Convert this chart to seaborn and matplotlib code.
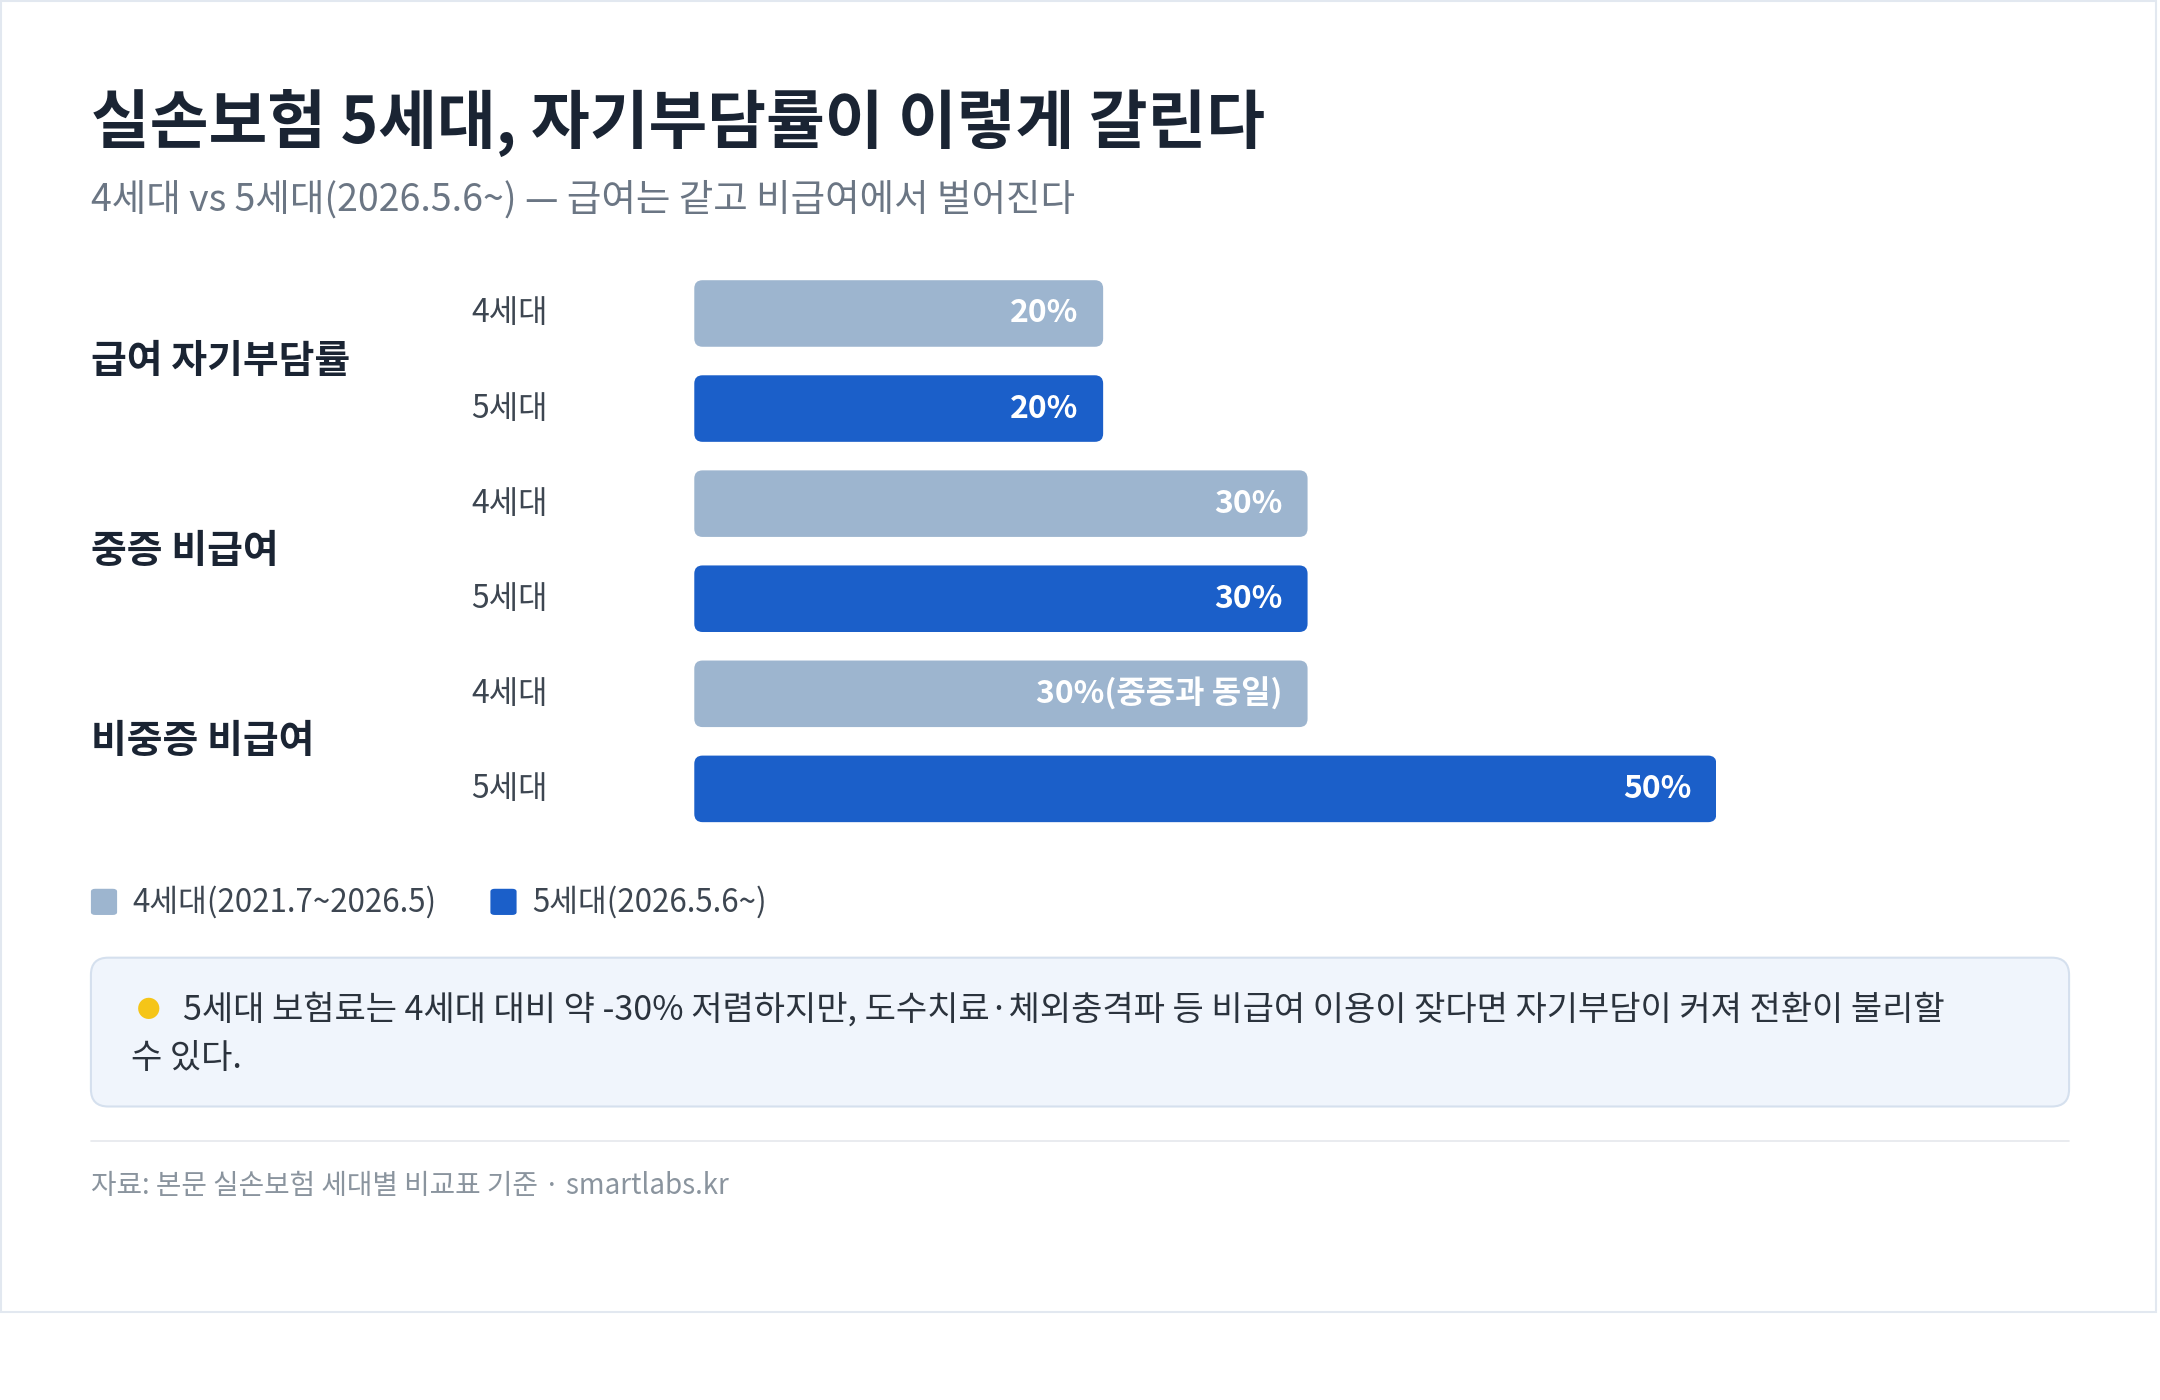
import matplotlib
matplotlib.use("Agg")
import matplotlib.pyplot as plt
import seaborn as sns
import pandas as pd
from matplotlib.patches import FancyBboxPatch, Rectangle

# data
groups = ["급여 자기부담률", "중증 비급여", "비중증 비급여"]
gens = ["4세대", "5세대"]
values = [20, 20, 30, 30, 30, 50]
bar_texts = ["20%", "20%", "30%", "30%", "30%(중증과 동일)", "50%"]
legend_labels = ["4세대(2021.7~2026.5)", "5세대(2026.5.6~)"]
colors = {"4세대": "#9db5cf", "5세대": "#1b5fc9"}

sns.set_theme(style="white")
plt.rcParams['font.family'] = ['Noto Sans CJK KR', 'DejaVu Sans']

W, H = 1568, 1016
fig = plt.figure(figsize=(21.6, 14), dpi=100)
fig.patch.set_facecolor("white")

def fx(x): return x / W
def fy(y): return 1 - y / H

# card border
fig.patches.append(Rectangle((fx(1), fy(952)), fx(1565) - fx(1), fy(1) - fy(952),
                             transform=fig.transFigure, fill=False, ec="#e2e8f0", lw=1.5))

fig.text(fx(66), fy(90), "실손보험 5세대, 자기부담률이 이렇게 갈린다", fontsize=46,
         fontweight="bold", color="#1a2433", va="center")
fig.text(fx(66), fy(145), "4세대 vs 5세대(2026.5.6~) — 급여는 같고 비급여에서 벌어진다", fontsize=27,
         color="#6b7684", va="center")

df = pd.DataFrame({
    "row": [f"{g}|{s}" for g in groups for s in gens],
    "gen": [s for g in groups for s in gens],
    "value": values,
})

ax = fig.add_axes([fx(504), fy(607), fx(1246) - fx(504), fy(193) - fy(607)])
sns.barplot(data=df, x="value", y="row", hue="gen", palette=colors, dodge=False,
            orient="h", width=0.7, saturation=1, ax=ax, legend=False)
ax.set_xlim(0, 50)
ax.axis("off")

# rounded bars
px_x = 50 / 742
px_y = len(df) / 414
for p in list(ax.patches):
    x0, y0 = p.get_x(), p.get_y()
    w, h = p.get_width(), p.get_height()
    if w == 0:
        continue
    fc = p.get_facecolor()
    p.remove()
    ax.add_patch(FancyBboxPatch((x0, y0), w, h,
                                boxstyle=f"round,pad=0,rounding_size={6 * px_x}",
                                mutation_aspect=px_y / px_x, fc=fc, ec="none"))

for i, (v, t) in enumerate(zip(values, bar_texts)):
    ax.text(v - 18 * px_x, i, t, color="white", fontsize=23, fontweight="bold",
            ha="right", va="center")
    ax.text(-162 * px_x, i, df["gen"][i], color="#3d4651", fontsize=23,
            ha="left", va="center")

for j, g in enumerate(groups):
    ax.text(-438 * px_x, 2 * j + 0.5, g, color="#1a2433", fontsize=28,
            fontweight="bold", ha="left", va="center")

# legend
for k, (lab, c) in enumerate(zip(legend_labels, gens)):
    x = [66, 356][k]
    fig.patches.append(FancyBboxPatch((fx(x), fy(664)), fx(19), fy(645) - fy(664),
                                      boxstyle="round,pad=0,rounding_size=0.002",
                                      transform=fig.transFigure, fc=colors[c], ec="none"))
    fig.text(fx(x + 30), fy(655), lab, fontsize=22.5, color="#3d4651", va="center")

# callout
fig.patches.append(FancyBboxPatch((fx(66), fy(803)), fx(1502) - fx(66), fy(695) - fy(803),
                                  boxstyle="round,pad=0,rounding_size=0.008",
                                  mutation_aspect=W / H,
                                  transform=fig.transFigure, fc="#f0f5fc", ec="#d5e0ee", lw=1.5))
fig.text(fx(108), fy(733), "●", fontsize=17, color="#f5c518", ha="center", va="center")
fig.text(fx(133), fy(733), "5세대 보험료는 4세대 대비 약 -30% 저렴하지만, 도수치료·체외충격파 등 비급여 이용이 잦다면 자기부담이 커져 전환이 불리할",
         fontsize=24.5, color="#2b333d", va="center")
fig.text(fx(95), fy(768), "수 있다.", fontsize=24.5, color="#2b333d", va="center")

fig.add_artist(plt.Line2D([fx(66), fx(1502)], [fy(828), fy(828)], transform=fig.transFigure,
                          color="#e5e8ec", lw=1.2))
fig.text(fx(66), fy(861), "자료: 본문 실손보험 세대별 비교표 기준 · smartlabs.kr", fontsize=20,
         color="#8a949e", va="center")

fig.savefig("out.png", dpi=100, facecolor="white")
